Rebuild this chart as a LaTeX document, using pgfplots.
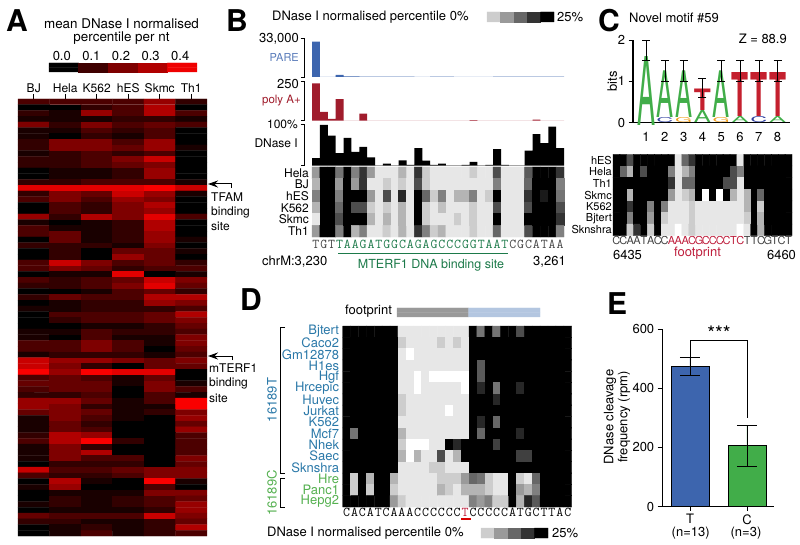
\documentclass[border=0pt]{standalone}
\usepackage{fontspec}
\setmainfont{TeX Gyre Heros}
\usepackage{pgfplots}
\pgfplotsset{compat=1.18}
\usetikzlibrary{arrows.meta}
\newcommand\fs[1]{\fontsize{#1}{#1}\selectfont}
\definecolor{pareblue}{HTML}{3D65AE}
\definecolor{lightblue}{HTML}{B3C6E0}
\definecolor{polyred}{HTML}{A01C2C}
\definecolor{seqgreen}{HTML}{1D7A4A}
\definecolor{seqgray}{HTML}{444444}
\definecolor{fpred}{HTML}{BE1E3C}
\definecolor{rowblue}{HTML}{2A78A8}
\definecolor{rowgreen}{HTML}{55B050}
\definecolor{logogreen}{HTML}{41AD49}
\definecolor{logored}{HTML}{C4202E}
\definecolor{logoblue}{HTML}{3040A0}
\definecolor{logoorange}{HTML}{F0A020}
\newcommand\Gs[1]{\textcolor{seqgray}{#1}}
\newcommand\Gr[1]{\textcolor{seqgreen}{#1}}
\newcommand\Rd[1]{\textcolor{fpred}{#1}}
\newcommand\Bl[1]{\textcolor{rowblue}{#1}}
\newcommand\Gn[1]{\textcolor{rowgreen}{#1}}
\pgfplotsset{
  hm/.style={scale only axis, anchor=north west, axis line style={draw=none},
    major tick length=0pt, point meta min=0, point meta max=10, clip=false,
    colormap={gr}{rgb255=(0,0,0) rgb255=(255,255,255)},
    tick label style={inner sep=1pt}},
  bars/.style={scale only axis, anchor=north west, hide axis, xmin=0, xmax=32, ymin=0, width=252pt},
}
% matrix of levels 0..10, row after row from the top
% (the +0.5 keeps floor() away from rounding errors of the division)
\newcommand\hmplot[2]{\addplot[matrix plot*, point meta=explicit, mesh/cols=#1]
  table[row sep=\\, x expr={\coordindex-#1*floor((\coordindex+0.5)/#1)}, y expr={-floor((\coordindex+0.5)/#1)}, meta=c] {c\\ #2};}
% logo letter: column, bottom in bits, width, height (pt), colour, letter
\newcommand\logoletter[6]{\node[inner sep=0pt, anchor=south] at (axis cs:#1,#2) {\resizebox{#3pt}{#4pt}{\textcolor{#5}{#6}}};}
\begin{document}
\begin{tikzpicture}
\path[use as bounding box] (0pt,0pt) rectangle (800pt,-545pt);

% ---- A: heat map
\begin{axis}[hm, at={(18pt,-99pt)}, width=189pt, height=437pt,
  colormap={heat}{rgb255=(0,0,0) rgb255=(250,0,0)},
  xmin=-0.5, xmax=5.5, ymin=-75.5, ymax=0.5, ytick=\empty,
  xtick={0,...,5}, xticklabels={BJ,Hela,K562,hES,Skmc,Th1},
  xtick pos=top, xticklabel pos=top, major tick length=5pt, tick align=outside,
  tick style={black,line width=0.6pt},
  xticklabel style={font=\fs{12}, text height=9pt, text depth=0pt}]
\hmplot{6}{
3\\3\\3\\3\\6\\2\\ 0\\0\\2\\3\\7\\0\\ 2\\1\\6\\3\\7\\3\\ 1\\1\\1\\2\\2\\1\\
5\\2\\5\\3\\4\\3\\ 1\\1\\3\\2\\3\\0\\ 1\\0\\2\\1\\3\\0\\ 2\\5\\5\\3\\6\\0\\
2\\5\\5\\4\\6\\1\\ 1\\2\\3\\2\\3\\0\\ 2\\2\\3\\5\\8\\0\\ 2\\2\\3\\4\\5\\0\\
0\\1\\1\\2\\6\\0\\ 0\\1\\1\\2\\6\\0\\ 2\\2\\3\\3\\3\\1\\ 9\\9\\9\\9\\10\\8\\
2\\5\\4\\8\\6\\1\\ 3\\5\\3\\6\\5\\0\\ 0\\3\\2\\5\\7\\0\\ 0\\3\\2\\5\\6\\0\\
6\\2\\7\\5\\9\\3\\ 1\\0\\1\\2\\7\\0\\ 3\\1\\1\\2\\7\\0\\ 3\\4\\1\\2\\6\\0\\
0\\4\\1\\2\\6\\1\\ 2\\2\\2\\1\\5\\0\\ 0\\2\\0\\4\\4\\1\\ 0\\2\\0\\6\\4\\0\\
3\\8\\5\\3\\4\\2\\ 3\\5\\4\\2\\3\\3\\ 0\\1\\1\\9\\0\\1\\ 3\\2\\3\\4\\8\\5\\
2\\2\\3\\5\\9\\4\\ 0\\0\\1\\3\\4\\2\\ 2\\4\\3\\3\\7\\7\\ 0\\1\\2\\2\\6\\5\\
1\\1\\2\\2\\2\\3\\ 0\\3\\3\\3\\4\\7\\ 0\\2\\3\\3\\4\\5\\ 0\\0\\1\\1\\2\\4\\
1\\1\\3\\2\\2\\3\\ 1\\0\\3\\1\\1\\5\\ 3\\3\\5\\3\\1\\5\\ 3\\3\\5\\3\\0\\4\\
1\\2\\2\\2\\1\\3\\ 8\\6\\6\\5\\4\\5\\ 8\\5\\2\\0\\4\\4\\ 10\\6\\10\\9\\9\\0\\
3\\4\\3\\1\\4\\0\\ 4\\4\\4\\1\\5\\1\\ 3\\4\\4\\0\\5\\3\\ 2\\2\\3\\0\\3\\1\\
6\\6\\4\\1\\3\\10\\ 6\\5\\2\\1\\1\\10\\ 4\\5\\4\\1\\2\\5\\ 1\\5\\3\\1\\0\\6\\
1\\4\\2\\0\\0\\4\\ 1\\4\\3\\0\\0\\6\\ 2\\7\\6\\0\\0\\3\\ 3\\7\\10\\2\\0\\3\\
1\\5\\2\\0\\0\\3\\ 1\\5\\7\\0\\0\\3\\ 1\\5\\3\\3\\0\\5\\ 0\\2\\2\\2\\0\\4\\
8\\3\\3\\4\\5\\5\\ 3\\2\\2\\3\\5\\5\\ 0\\7\\1\\0\\10\\1\\ 1\\6\\0\\0\\3\\0\\
0\\1\\1\\1\\5\\5\\ 0\\2\\1\\2\\3\\4\\ 1\\2\\1\\2\\3\\6\\ 0\\1\\1\\1\\2\\6\\
4\\3\\3\\3\\8\\5\\ 2\\2\\1\\1\\2\\4\\ 0\\1\\2\\1\\2\\7\\ 0\\1\\3\\1\\2\\3\\
}
\end{axis}

% ---- A: colour bar
\begin{axis}[hm, at={(49pt,-63pt)}, width=148pt, height=9pt,
  colormap={heat}{rgb255=(0,0,0) rgb255=(250,0,0)},
  xmin=-0.5, xmax=4.5, ymin=-1.5, ymax=0.5, ytick=\empty,
  xtick={0,...,4}, xticklabels={0.0,0.1,0.2,0.3,0.4},
  xticklabel pos=top, xticklabel style={font=\fs{13}, xshift=-2pt, yshift=1pt}]
\hmplot{5}{0\\2.5\\5\\7\\9.5\\ 0\\2.5\\5\\7\\9.5\\}
\end{axis}

% ---- B: tracks
\begin{axis}[bars, at={(312pt,-38pt)}, height=39pt, ymax=33000]
\addplot[ybar interval, fill=pareblue, draw=none] coordinates {
(0,30000)(1,0)(2,0)(3,1700)(4,500)(5,500)(6,250)(7,250)(8,250)(9,250)(10,250)(11,250)(12,250)
(13,0)(14,0)(15,250)(16,250)(17,250)(18,0)(19,0)(20,0)(21,0)(22,0)(23,250)(24,250)(25,250)
(26,250)(27,250)(28,250)(29,250)(30,250)(31,250)(32,0)};
\end{axis}
\begin{axis}[bars, at={(312pt,-81pt)}, height=39.7pt, ymax=250]
\addplot[ybar interval, fill=polyred, draw=none] coordinates {
(0,235)(1,55)(2,11)(3,136)(4,0)(5,0)(6,44)(7,0)(8,0)(9,0)(10,0)(11,0)(12,0)(13,0)(14,0)(15,0)
(16,0)(17,0)(18,0)(19,0)(20,4)(21,0)(22,0)(23,0)(24,0)(25,0)(26,0)(27,0)(28,7)(29,0)(30,0)(31,0)(32,0)};
\end{axis}
\begin{axis}[bars, at={(312pt,-124pt)}, height=41.7pt, ymax=100]
\addplot[ybar interval, fill=black, draw=none] coordinates {
(0,18)(1,98)(2,72)(3,30)(4,67)(5,33)(6,45)(7,20)(8,1)(9,5)(10,1)(11,13)(12,2)(13,42)(14,12)(15,2)
(16,5)(17,1)(18,1)(19,2)(20,9)(21,1)(22,2)(23,40)(24,2)(25,0.5)(26,1)(27,36)(28,76)(29,54)(30,94)(31,42)(32,0)};
\end{axis}

% ---- B: heat map
\begin{axis}[hm, at={(312pt,-167pt)}, width=252pt, height=70pt,
  xmin=-0.5, xmax=31.5, ymin=-5.5, ymax=0.5,
  ytick={0,-1,-2,-3,-4,-5}, yticklabels={Hela,BJ,hES,K562,Skmc,Th1},
  yticklabel style={font=\fs{12}, xshift=-2pt},
  xtick={0,...,31},
  xticklabels={\Gs{T},\Gs{G},\Gs{T},\Gr{T},\Gr{A},\Gr{A},\Gr{G},\Gr{A},\Gr{T},\Gr{G},\Gr{G},\Gr{C},\Gr{A},\Gr{G},\Gr{A},\Gr{G},\Gr{C},\Gr{C},\Gr{C},\Gr{G},\Gr{G},\Gr{T},\Gr{A},\Gr{A},\Gr{T},\Gs{C},\Gs{G},\Gs{C},\Gs{A},\Gs{T},\Gs{A},\Gs{A}},
  xticklabel style={font=\ttfamily\fs{13.5}, text height=7pt, text depth=0pt, yshift=-3pt}]
\hmplot{32}{
6\\0\\0\\4.5\\0\\5\\2\\6\\9\\9\\9\\7\\9\\2\\8\\9\\9\\9\\9\\9\\8\\9\\9\\3\\9\\9\\9\\3.5\\0\\0\\0\\2\\
7\\0\\0\\6\\0\\6\\2\\9\\9\\8\\9\\8\\9\\3\\8\\9\\9\\9\\9\\9\\9\\9\\9\\5\\9\\9\\9\\4\\0\\0\\0\\5\\
5\\0\\0\\5\\0\\0\\0\\6\\9\\3\\9\\1.5\\9\\0\\4\\8\\5\\9\\7\\7\\5\\9\\8\\0\\9\\9\\9\\2\\0\\1\\0\\4.5\\
7\\0\\0\\4\\0\\3\\3\\8\\9\\8\\9\\7\\9\\0\\8\\9\\7.5\\9\\9\\9\\8\\9\\9\\3\\9\\9\\9\\3\\0\\0\\0\\3\\
9\\0\\0\\3\\0\\0\\0\\7\\9\\7\\9\\7\\9\\0\\8\\9\\9\\9\\8\\9\\8\\9\\9\\0\\9\\9\\9\\0\\0\\0\\0\\2\\
6\\0\\0\\5\\0\\7\\5\\9\\9\\8\\9\\7\\9\\2\\5\\8\\7\\9\\9\\9\\8\\9\\9\\4\\9\\9\\9\\3\\0\\0\\0\\5\\
}
\end{axis}

% ---- legend scales (B, D)
\begin{axis}[hm, at={(487pt,-12pt)}, width=67pt, height=10pt,
  xmin=-0.5, xmax=4.5, ymin=-1.5, ymax=0.5, ytick=\empty, xtick=\empty]
\hmplot{5}{8\\6\\4\\2\\0\\ 8\\6\\4\\2\\0\\}
\end{axis}
\begin{axis}[hm, at={(481pt,-528pt)}, width=67pt, height=10pt,
  xmin=-0.5, xmax=4.5, ymin=-1.5, ymax=0.5, ytick=\empty, xtick=\empty]
\hmplot{5}{8\\6\\4\\2\\0\\ 8\\6\\4\\2\\0\\}
\end{axis}

% ---- C: logo
\begin{axis}[scale only axis, anchor=north west, at={(633pt,-40pt)}, width=157pt, height=82.7pt,
  xmin=0.305, xmax=8.66, ymin=0, ymax=2, clip=false, axis lines=left,
  axis line style={-, line width=1.2pt},
  tick style={black,line width=0.8pt}, tick align=outside,
  xtick={1,...,8}, ytick={0,1,2}, xtick style={draw=none},
  tick label style={font=\fs{13}, /pgf/number format/assume math mode=true},
  xticklabel style={yshift=-2pt},
  ylabel={bits}, ylabel style={font=\fs{13}, yshift=-6pt}]
\logoletter{1}{-0.08}{18}{69}{logogreen}{A}
\logoletter{2}{0}{17}{5}{logoblue}{C}   \logoletter{2}{0.12}{17}{46.7}{logogreen}{A}
\logoletter{3}{0}{17}{5}{logoorange}{G} \logoletter{3}{0.12}{17}{46.7}{logogreen}{A}
\logoletter{4}{0}{17}{12}{logogreen}{A} \logoletter{4}{0.3}{17}{21.5}{logored}{\bfseries T}
\logoletter{5}{0}{17}{5}{logoorange}{G} \logoletter{5}{0.12}{17}{46.7}{logogreen}{A}
\logoletter{6}{0}{17}{6}{logogreen}{A}  \logoletter{6}{0.15}{17}{44}{logored}{\bfseries T}
\logoletter{7}{0}{17}{6}{logoblue}{C}   \logoletter{7}{0.15}{17}{44}{logored}{\bfseries T}
\logoletter{8}{0}{17}{6}{logogreen}{A}  \logoletter{8}{0.15}{17}{44}{logored}{\bfseries T}
\addplot[draw=none, no markers,
  error bars/.cd, y dir=both, y explicit,
  error bar style={draw=black, line width=0.6pt},
  error mark options={draw=black, rotate=90, mark size=4pt, line width=0.6pt}] coordinates {
  (1,1.6) += (0,0.4) -= (0,0.1)
  (2,1.25) += (0,0.25) -= (0,0.25)
  (3,1.25) += (0,0.25) -= (0,0.25)
  (4,0.85) += (0,0.23) -= (0,0.23)
  (5,1.25) += (0,0.25) -= (0,0.25)
  (6,1.25) += (0,0.25) -= (0,0.25)
  (7,1.25) += (0,0.25) -= (0,0.25)
  (8,1.25) += (0,0.25) -= (0,0.25)};
\end{axis}

% ---- C: heat map
\begin{axis}[hm, at={(613pt,-154.3pt)}, width=179pt, height=81.4pt,
  xmin=-0.5, xmax=25.5, ymin=-6.5, ymax=0.5,
  ytick={0,-1,-2,-3,-4,-5,-6},
  yticklabels={hES,Hela,Th1,Skmc,K562,Bjtert,Sknshra},
  yticklabel style={font=\fs{11}},
  xtick={0,...,25},
  xticklabels={\Gs{C},\Gs{C},\Gs{A},\Gs{A},\Gs{T},\Gs{A},\Gs{C},\Gs{C},\Rd{A},\Rd{A},\Rd{A},\Rd{C},\Rd{G},\Rd{C},\Rd{C},\Rd{C},\Rd{C},\Rd{T},\Rd{C},\Gs{T},\Gs{T},\Gs{C},\Gs{G},\Gs{T},\Gs{C},\Gs{T}},
  xticklabel style={font=\fs{11}, text height=8pt, text depth=0pt, yshift=0pt}]
\hmplot{26}{
0\\0\\3\\0\\0\\0\\0\\0\\0\\9\\4\\2\\0\\0\\0\\0\\0\\0\\9\\0\\0\\0\\0\\0\\0\\0\\
0\\4\\7\\0\\3\\0\\0\\0\\5\\9\\7\\5\\0\\0\\0\\0\\0\\3\\5\\0\\0\\0\\0\\0\\0\\0\\
0\\0\\0\\0\\0\\0\\0\\0\\2\\9\\4\\4\\0\\0\\0\\0\\3\\3\\9\\0\\0\\0\\0\\0\\0\\0\\
0\\0\\7\\0\\0\\0\\0\\0\\6\\9\\8\\7\\0\\10\\0\\10\\0\\7\\9\\7\\0\\4\\0\\0\\0\\0\\
0\\0\\2\\0\\0\\5\\0\\5\\9\\9\\9\\8\\9\\9\\9\\9\\9\\9\\9\\7\\0\\8\\0\\0\\0\\0\\
0\\0\\5\\0\\0\\6\\0\\8\\9\\9\\9\\8\\9\\9\\9\\9\\9\\9\\9\\8\\0\\7\\0\\0\\0\\0\\
0\\0\\8\\2\\0\\8\\0\\9\\9\\10\\9\\8\\9\\9\\9\\9\\9\\9\\10\\9\\0\\7\\0\\0\\0\\0\\
}
\end{axis}

% ---- D: footprint bar
\begin{axis}[hm, at={(397pt,-308pt)}, width=143pt, height=9pt,
  colormap={fp}{rgb255=(153,153,153) rgb255=(179,198,224)},
  xmin=-0.5, xmax=1.5, ymin=-1.5, ymax=0.5, ytick=\empty, xtick=\empty]
\hmplot{2}{0\\10\\ 0\\10\\}
\end{axis}

% ---- D: heat map
\begin{axis}[hm, at={(342.7pt,-326pt)}, width=229pt, height=181pt,
  xmin=-0.5, xmax=28.5, ymin=-15.5, ymax=0.5,
  ytick={0,-1,-2,-3,-4,-5,-6,-7,-8,-9,-10,-11,-12,-13,-14,-15},
  yticklabels={\Bl{Bjtert},\Bl{Caco2},\Bl{Gm12878},\Bl{H1es},\Bl{Hgf},\Bl{Hrcepic},\Bl{Huvec},\Bl{Jurkat},\Bl{K562},\Bl{Mcf7},\Bl{Nhek},\Bl{Saec},\Bl{Sknshra},\Gn{Hre},\Gn{Panc1},\Gn{Hepg2}},
  yticklabel style={font=\fs{13}, xshift=-2.5pt},
  xtick={0,...,28},
  xticklabels={C,A,C,A,T,C,A,A,A,C,C,C,C,C,C,\Rd{T},C,C,C,C,C,A,T,G,C,T,T,A,C},
  xticklabel style={font=\ttfamily\fs{13.5}, text height=7pt, text depth=0pt, yshift=-1pt}]
\hmplot{29}{
0\\0\\0\\0\\0\\0\\0\\9\\9\\9\\9\\9\\9\\9\\9\\9\\0\\4.5\\0\\4.5\\0\\0\\3\\0\\0\\0\\0\\0\\0\\
0\\0\\0\\0\\0\\0\\0\\8\\9\\9\\9\\9\\8\\9\\8\\9\\0\\0\\0\\0\\0\\0\\0\\0\\0\\0\\0\\0\\0\\
0\\0\\0\\0\\0\\0\\0\\9\\10\\9\\9\\9\\9\\9\\9\\9\\0\\0\\0\\0\\0\\0\\0\\0\\0\\0\\0\\0\\0\\
0\\0\\0\\0\\0\\0\\0\\9\\9\\9\\9\\9\\9\\9\\9\\9\\0\\3.5\\0\\0\\0\\0\\0\\0\\0\\0\\0\\0\\0\\
0\\0\\0\\0\\0\\0\\0\\9\\9\\10\\9\\10\\10\\10\\10\\10\\0\\3.5\\0\\0\\0\\0\\0\\0\\0\\0\\0\\0\\0\\
0\\0\\0\\0\\0\\0\\0\\9\\9\\10\\9\\9\\9\\9\\9\\10\\0\\1.5\\0\\4.5\\0\\0\\1.5\\0\\0\\0\\0\\0\\0\\
0\\0\\0\\0\\0\\0\\0\\8\\9\\9\\9\\9\\9\\9\\9\\9\\0\\0\\0\\1.5\\0\\0\\0\\0\\0\\0\\0\\0\\0\\
0\\0\\0\\0\\0\\0\\0\\8\\9\\9\\9\\9\\9\\10\\9\\9\\0\\0\\0\\0\\0\\0\\0\\0\\0\\0\\0\\0\\0\\
0\\0\\0\\0\\0\\0\\0\\9\\9\\9\\9\\9\\9\\9\\9\\9\\0\\1.5\\0\\4\\0\\0\\0\\0\\0\\0\\0\\0\\0\\
0\\4.5\\0\\0\\0\\0\\0\\7\\9\\9\\9\\9\\9\\9\\9\\9\\0\\4\\0\\0\\0\\0\\1.5\\0\\0\\0\\0\\0\\0\\
0\\0\\0\\0\\0\\0\\0\\8\\10\\10\\10\\9\\9\\0\\1.5\\0\\0\\0\\0\\2.5\\0\\0\\0\\0\\0\\0\\0\\0\\0\\
0\\0\\0\\0\\0\\0\\0\\7\\10\\7\\9\\9\\3\\9\\7\\0\\0\\0\\0\\0\\0\\0\\2.5\\2.5\\0\\0\\0\\0\\0\\
0\\0\\0\\0\\0\\0\\0\\9\\9\\9\\9\\8\\8\\9\\9\\9\\0\\0\\0\\0\\0\\0\\0\\0\\0\\0\\0\\0\\0\\
0\\8\\0\\7\\0\\0\\7\\9\\9\\9\\9\\9\\8\\8\\8\\6\\4\\4.5\\8\\9\\9\\0\\8\\9\\4\\0\\0\\0\\0\\
0\\8\\0\\8\\0\\0\\8\\9\\9\\9\\9\\9\\7\\8\\9\\7\\7\\7\\8\\9\\9\\0\\6\\7\\5\\0\\0\\0\\0\\
0\\0\\0\\0\\0\\0\\6\\8\\9\\9\\9\\9\\9\\9\\9\\9\\5\\6\\5\\8\\8\\0\\7\\1.5\\3.5\\0\\0\\0\\0\\
}
\end{axis}

% ---- E: bars
\begin{axis}[scale only axis, anchor=north west, at={(662pt,-329pt)}, width=112pt, height=177.7pt,
  xmin=0.509, xmax=2.474, ymin=0, ymax=600, clip=false, axis lines=left,
  axis line style={-, line width=0.9pt}, tick style={black,line width=0.9pt}, tick align=outside,
  ytick={0,200,400,600}, xtick={1,2}, xticklabels={T,C},
  tick label style={font=\fs{13}, /pgf/number format/assume math mode=true}]
\addplot[ybar, bar width=38pt, bar shift=0pt, fill=pareblue, draw=black, line width=0.9pt,
  error bars/.cd, y dir=both, y explicit,
  error bar style={line width=0.9pt},
  error mark options={rotate=90, mark size=10pt, line width=0.9pt}]
  coordinates {(1,475) += (0,28) -= (0,32)};
\addplot[ybar, bar width=38pt, bar shift=0pt, fill=logogreen, draw=black, line width=0.9pt,
  error bars/.cd, y dir=both, y explicit,
  error bar style={line width=0.9pt},
  error mark options={rotate=90, mark size=10pt, line width=0.9pt}]
  coordinates {(2,206) += (0,69) -= (0,71)};
\end{axis}

% ---- annotations, in image pixels from the top left corner
\begin{scope}[x=1pt, y=-1pt, every node/.style={inner sep=0pt}]
\foreach \t/\x/\y in {A/6/32, B/226/32, C/598/32, D/240/310, E/607/314}
  \node[anchor=base west, font=\bfseries\fs{30}] at (\x,\y) {\t};

% A
\node[font=\fs{13.4}] at (121.5,24) {mean DNase I normalised};
\node[font=\fs{13.4}] at (121.5,38) {percentile per nt};
\draw[line width=1pt, -{Stealth[length=10pt,width=7pt]}] (231,188) -- (231,184) -- (208,184);
\draw[line width=1pt, -{Stealth[length=10pt,width=7pt]}] (232,360) -- (232,356) -- (208,356);
\foreach \t/\y in {TFAM/197, binding/212, site/226}
  \node[anchor=west, font=\fs{12}] at (211,\y) {\t};
\foreach \t/\y in {mTERF1/368, binding/383, site/398}
  \node[anchor=west, font=\fs{12}] at (209,\y) {\t};

% B
\node[anchor=west, font=\fs{13}] at (272,17) {DNase I normalised percentile 0\%};
\node[anchor=west, font=\fs{13}] at (557,17) {25\%};
\foreach \a/\b in {38/77, 81/120.7, 124/165.7}
  \draw[line width=0.9pt] (300.5,\a) -- (304,\a) -- (304,\b) -- (300.5,\b);
\node[anchor=east, font=\fs{13}] at (299,39) {33,000};
\node[anchor=east, font=\fs{11}, text=pareblue!85] at (299,57) {PARE};
\node[anchor=east, font=\fs{13}] at (299,84) {250};
\node[anchor=east, font=\fs{11.5}, text=polyred] at (301,101) {poly A+};
\node[anchor=east, font=\fs{12}] at (298,124) {100\%};
\node[anchor=east, font=\fs{12}] at (298,143) {DNase I};
\draw[seqgreen, line width=1pt] (338,254) -- (508,254);
\node[anchor=west, font=\fs{13}] at (262,262) {chrM:3,230};
\node[font=\fs{12.5}, text=seqgreen] at (431,265) {MTERF1 DNA binding site};
\node[anchor=west, font=\fs{13}] at (533,262) {3,261};

% C
\node[anchor=west, font=\fs{13}] at (629,18) {Novel motif \#59};
\node[anchor=east, font=\fs{13}] at (787,39) {Z = 88.9};
\node[font=\fs{13}] at (627.5,255) {6435};
\node[font=\fs{13}, text=fpred] at (697.5,253) {footprint};
\node[font=\fs{13}] at (781.5,255) {6460};

% D
\node[anchor=west, font=\fs{13}] at (345,311) {footprint};
\draw[line width=1pt] (285,327) -- (280,327) -- (280,473) -- (285,473);
\draw[line width=1pt] (285,478) -- (280,478) -- (280,507) -- (285,507);
\node[rotate=90, font=\fs{13}, text=rowblue] at (272,400) {16189T};
\node[rotate=90, font=\fs{13}, text=rowgreen] at (272,493) {16189C};
\draw[red!85!black, line width=1.4pt] (461,519) -- (471,519);
\node[anchor=west, font=\fs{13}] at (267,533) {DNase I normalised percentile 0\%};
\node[anchor=west, font=\fs{13}] at (552,533) {25\%};

% E
\draw[line width=0.9pt] (690.7,357) -- (690.7,340.7) -- (747,340.7) -- (747,418);
\node[anchor=north, font=\fs{20}] at (719,326) {***};
\node[font=\fs{13}] at (690.7,533) {(n=13)};
\node[font=\fs{13}] at (746,533) {(n=3)};
\node[rotate=90, font=\fs{13}] at (610,417) {DNase cleavage};
\node[rotate=90, font=\fs{13}] at (624,417) {frequency (rpm)};
\end{scope}
\end{tikzpicture}
\end{document}
